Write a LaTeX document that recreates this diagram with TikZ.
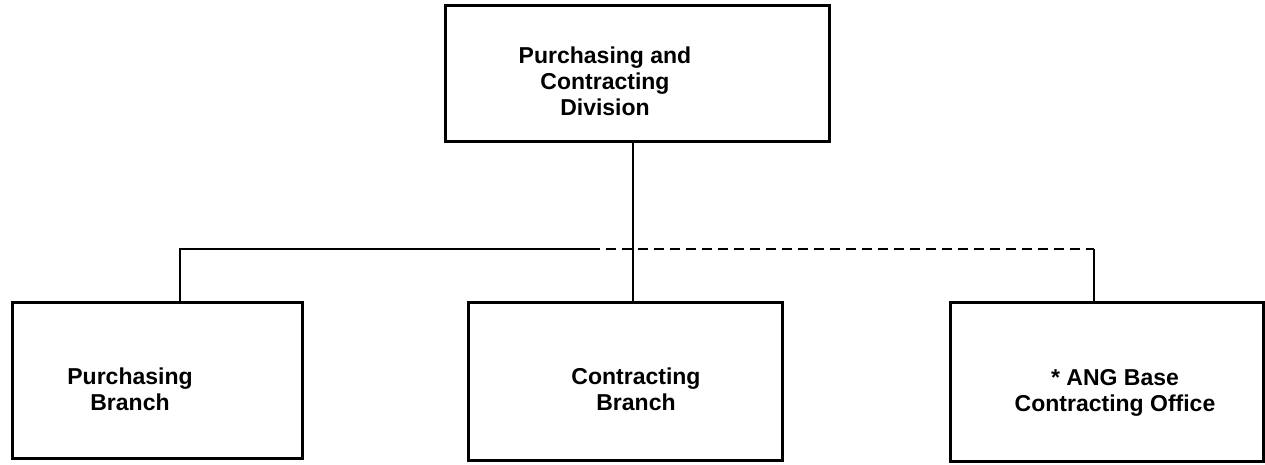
\documentclass[tikz,border=0pt]{standalone}
\usepackage{fontspec}
\setmainfont{Liberation Sans}
\begin{document}
\begin{tikzpicture}[x=1pt,y=-1pt,
  unitbox/.style={draw, line width=3pt, inner sep=0pt, outer sep=0pt,
    anchor=north west, rectangle},
  lbl/.style={font=\bfseries\fontsize{23}{26}\selectfont, align=center, inner sep=0pt},
  link/.style={line width=2.5pt},
  dashlink/.style={line width=2.5pt, dash pattern=on 10pt off 6pt}]
\useasboundingbox (0,0) rectangle (1265,465);

% boxes of the chart
\node[unitbox, minimum width=384pt, minimum height=136pt] (div) at (445,6) {};
\node[unitbox, minimum width=290pt, minimum height=156pt] (pur) at (12,302) {};
\node[unitbox, minimum width=314pt, minimum height=158pt] (con) at (468,302) {};
\node[unitbox, minimum width=313pt, minimum height=159pt] (ang) at (950,302) {};

% box titles
\node[lbl] (tdiv) at (605,81) {Purchasing and\\Contracting\\Division};
\node[lbl] (tpur) at (130,389) {Purchasing\\Branch};
\node[lbl] (tcon) at (636,389) {Contracting\\Branch};
\node[lbl] (tang) at (1115,393) {* ANG Base\\Contracting Office};

% junction points on the branch bar
\coordinate (hub) at (633,249);
\coordinate (lj) at (180,249);
\coordinate (split) at (590,249);
\coordinate (rj) at (1094,249);

% connectors
\draw[link] (div.south -| hub) -- (con.north -| hub);
\draw[link] (pur.north -| lj) -- (lj) -- (split);
\draw[dashlink] (split) -- (rj);
\draw[link] (rj) -- (ang.north -| rj);
\end{tikzpicture}
\end{document}
